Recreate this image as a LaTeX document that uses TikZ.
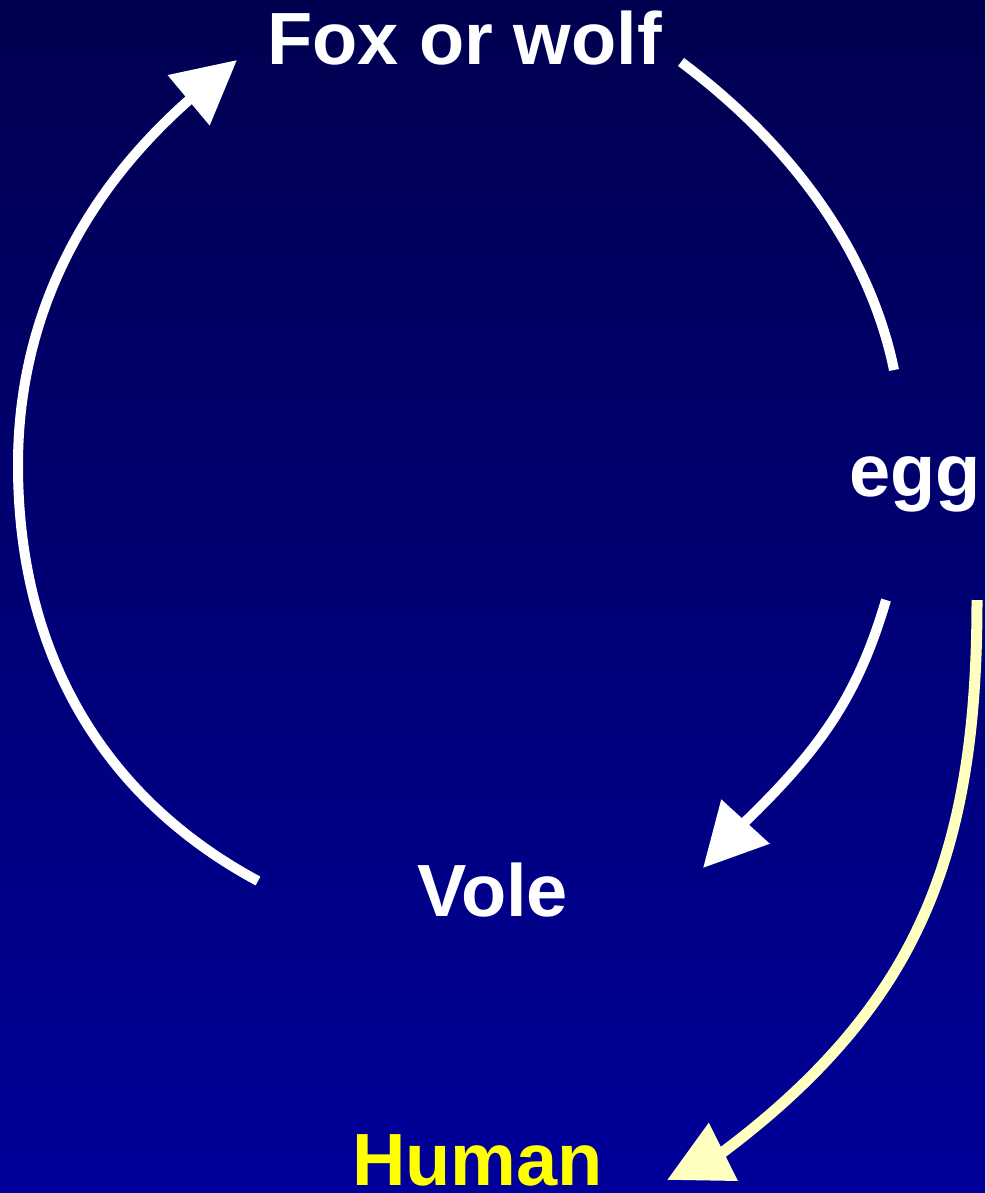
\documentclass[tikz,border=0pt]{standalone}
\usepackage{fontspec}
\setmainfont{Liberation Sans}
\usetikzlibrary{arrows.meta}
\definecolor{bgtop}{RGB}{0,0,80}
\definecolor{bgbot}{RGB}{0,0,154}
\definecolor{paleyellow}{RGB}{255,255,192}
\definecolor{labelyellow}{RGB}{255,255,0}
\begin{document}
\begin{tikzpicture}[x=1pt,y=-1pt,
  label/.style={inner sep=0pt, anchor=base west, font=\fontsize{74}{80}\selectfont\bfseries},
  whitearc/.style={draw=white, line width=10pt},
  whitearrow/.style={whitearc, -{Triangle[length=63pt,width=63pt]}},
  yellowarrow/.style={draw=paleyellow, line width=11pt, -{Triangle[length=63pt,width=62pt]}, color=paleyellow}]
\shade[top color=bgtop, bottom color=bgbot] (0,0) rectangle (985,1193);
\useasboundingbox (0,0) rectangle (985,1193);

\node[label, text=white] (fox) at (267,65) {Fox or wolf};
\node[label, text=white] (egg) at (849,496) {egg};
\node[label, text=white] (vole) at (417,916) {Vole};
\node[label, text=labelyellow] (human) at (352,1185) {Human};

% vole -> fox
\coordinate (s1) at (258,881);
\coordinate (l1) at (18,465);
\coordinate (b1) at (189,100);
\coordinate (t1) at (237,60);
\draw[whitearrow] (s1) .. controls (100,796) and (18,650) .. (l1)
  .. controls (18,324) and (77,199) .. (b1) -- (t1);

% fox -> egg (no head)
\coordinate (s2) at (681,62);
\coordinate (e2) at (894,370);
\draw[whitearc] (s2) .. controls (784,139) and (868,244) .. (e2);

% egg -> vole
\coordinate (s3) at (886,600);
\coordinate (b3) at (746,821);
\coordinate (t3) at (703,868);
\draw[whitearrow] (s3) .. controls (858,695) and (822,747) .. (b3) -- (t3);

% egg -> human
\coordinate (s4) at (977,600);
\coordinate (m4) at (917,930);
\coordinate (b4) at (723,1152);
\coordinate (t4) at (667,1180);
\draw[yellowarrow] (s4) .. controls (977,713) and (966,829) .. (m4)
  .. controls (874,1020) and (803,1092) .. (b4) -- (t4);
\end{tikzpicture}
\end{document}
